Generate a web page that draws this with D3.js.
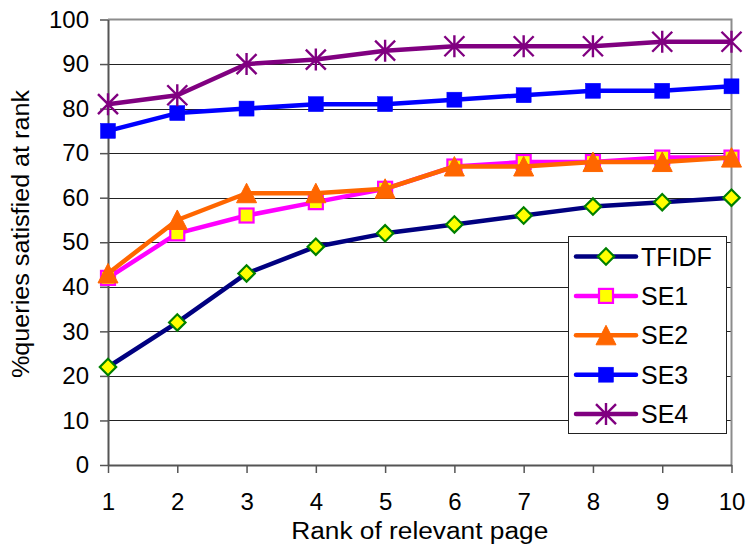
<!DOCTYPE html>
<html>
<head>
<meta charset="utf-8">
<script src="https://cdn.jsdelivr.net/npm/d3@7"></script>
<style>
  html, body { margin: 0; padding: 0; background: #fff; }
  svg { display: block; font-family: "Liberation Sans", Arial, sans-serif; }
</style>
</head>
<body>
<svg id="chart" width="747" height="546"></svg>
<script>
// Rank of first relevant page vs. share of queries satisfied
const ranks = [1, 2, 3, 4, 5, 6, 7, 8, 9, 10];
const tfidf = [22, 32, 43, 49, 52, 54, 56, 58, 59, 60];
const se1   = [42, 52, 56, 59, 62, 67, 68, 68, 69, 69];
const se2   = [43, 55, 61, 61, 62, 67, 67, 68, 68, 69];
const se3   = [75, 79, 80, 81, 81, 82, 83, 84, 84, 85];
const se4   = [81, 83, 90, 91, 93, 94, 94, 94, 95, 95];
const seriesNames = ["TFIDF", "SE1", "SE2", "SE3", "SE4"];
const yTicks = [0, 10, 20, 30, 40, 50, 60, 70, 80, 90, 100];

const series = [
  { name: seriesNames[0], values: tfidf, line: "#000080", marker: "diamond",  fill: "#ffff00", stroke: "#008000" },
  { name: seriesNames[1], values: se1,   line: "#ff00ff", marker: "square",   fill: "#ffff00", stroke: "#ff00ff" },
  { name: seriesNames[2], values: se2,   line: "#ff6600", marker: "triangle", fill: "#ff6600", stroke: "#ff6600" },
  { name: seriesNames[3], values: se3,   line: "#0000ff", marker: "block",    fill: "#0000ff", stroke: "#0000ff" },
  { name: seriesNames[4], values: se4,   line: "#800080", marker: "star",     fill: "none",    stroke: "#800080" }
];

const svg = d3.select("#chart");
const plotLeft = 108, plotRight = 731.5, plotTop = 19.5, plotBottom = 465;

const x = d3.scaleLinear().domain([1, 10]).range([plotLeft, plotRight]);
const y = d3.scaleLinear().domain([0, 100]).range([plotBottom, plotTop]);

// horizontal gridlines
svg.append("g")
  .selectAll("line")
  .data(yTicks.filter(t => t > 0 && t < 100))
  .join("line")
  .attr("x1", plotLeft).attr("x2", plotRight)
  .attr("y1", d => Math.round(y(d)) + 0.5).attr("y2", d => Math.round(y(d)) + 0.5)
  .attr("stroke", "#222").attr("stroke-width", 1);

// plot frame (top and right)
svg.append("path")
  .attr("d", `M${plotLeft},${plotTop}H${plotRight}V${plotBottom}`)
  .attr("fill", "none").attr("stroke", "#8c8c8c").attr("stroke-width", 2);

// y axis
const yAxis = svg.append("g")
  .attr("transform", `translate(${plotLeft},0)`)
  .call(d3.axisLeft(y).tickValues(yTicks).tickSize(8).tickPadding(11).tickSizeOuter(0));
yAxis.select(".domain").attr("stroke", "#555").attr("stroke-width", 2);
yAxis.selectAll(".tick line").attr("stroke", "#555").attr("stroke-width", 1.5);
yAxis.selectAll(".tick text")
  .attr("font-size", 24).attr("font-family", "Liberation Sans, Arial, sans-serif")
  .attr("fill", "#000");

// x axis
const xAxis = svg.append("g")
  .attr("transform", `translate(0,${plotBottom})`)
  .call(d3.axisBottom(x).tickValues(ranks).tickFormat(d3.format("d")).tickSize(8).tickPadding(20).tickSizeOuter(0));
xAxis.select(".domain").attr("stroke", "#555").attr("stroke-width", 2);
xAxis.selectAll(".tick line").attr("stroke", "#555").attr("stroke-width", 1.5);
xAxis.selectAll(".tick text")
  .attr("font-size", 24).attr("font-family", "Liberation Sans, Arial, sans-serif")
  .attr("fill", "#000");

// axis titles
svg.append("text")
  .attr("x", (plotLeft + plotRight) / 2).attr("y", 539)
  .attr("text-anchor", "middle").attr("font-size", 23)
  .attr("textLength", 257).attr("lengthAdjust", "spacingAndGlyphs")
  .text("Rank of relevant page");

svg.append("text")
  .attr("transform", "translate(29,234) rotate(-90)")
  .attr("text-anchor", "middle").attr("font-size", 23)
  .attr("textLength", 288).attr("lengthAdjust", "spacingAndGlyphs")
  .text("%queries satisfied at rank");

// marker drawing
function drawMarker(g, type, fill, stroke) {
  if (type === "diamond") {
    g.append("rect").attr("x", -5.8).attr("y", -5.8).attr("width", 11.6).attr("height", 11.6)
      .attr("transform", "rotate(45)")
      .attr("fill", fill).attr("stroke", stroke).attr("stroke-width", 2.2);
  } else if (type === "square") {
    g.append("rect").attr("x", -7).attr("y", -7).attr("width", 14).attr("height", 14)
      .attr("fill", fill).attr("stroke", stroke).attr("stroke-width", 2.2);
  } else if (type === "triangle") {
    g.append("path").attr("d", "M0,-10L10,9.5L-10,9.5Z")
      .attr("fill", fill).attr("stroke", stroke).attr("stroke-width", 1);
  } else if (type === "block") {
    g.append("rect").attr("x", -7.5).attr("y", -7.5).attr("width", 15).attr("height", 15)
      .attr("fill", fill).attr("stroke", stroke).attr("stroke-width", 0.5);
  } else if (type === "star") {
    g.append("path").attr("d", "M0,-11V11M-10,-10L10,10M-10,10L10,-10")
      .attr("fill", "none").attr("stroke", stroke).attr("stroke-width", 2.4);
  }
}

const line = d3.line().x((d, i) => x(ranks[i])).y(d => y(d));

series.forEach(s => {
  const g = svg.append("g");
  g.append("path")
    .attr("d", line(s.values))
    .attr("fill", "none").attr("stroke", s.line).attr("stroke-width", 4.5)
    .attr("stroke-linejoin", "round");
  s.values.forEach((v, i) => {
    const m = g.append("g").attr("transform", `translate(${x(ranks[i])},${y(v)})`);
    drawMarker(m, s.marker, s.fill, s.stroke);
  });
});

// legend
const lg = svg.append("g");
lg.append("rect")
  .attr("x", 568.5).attr("y", 236.5).attr("width", 158).attr("height", 197)
  .attr("fill", "#fff").attr("stroke", "#222").attr("stroke-width", 1);
series.forEach((s, i) => {
  const cy = 256.5 + i * 39.4;
  lg.append("line").attr("x1", 576).attr("x2", 636).attr("y1", cy).attr("y2", cy)
    .attr("stroke", s.line).attr("stroke-width", 4.5).attr("stroke-linecap", "round");
  const m = lg.append("g").attr("transform", `translate(606,${cy})`);
  drawMarker(m, s.marker, s.fill, s.stroke);
  lg.append("text").attr("x", 641).attr("y", cy + 9)
    .attr("font-size", 25).attr("fill", "#000")
    .text(s.name);
});
</script>
</body>
</html>
